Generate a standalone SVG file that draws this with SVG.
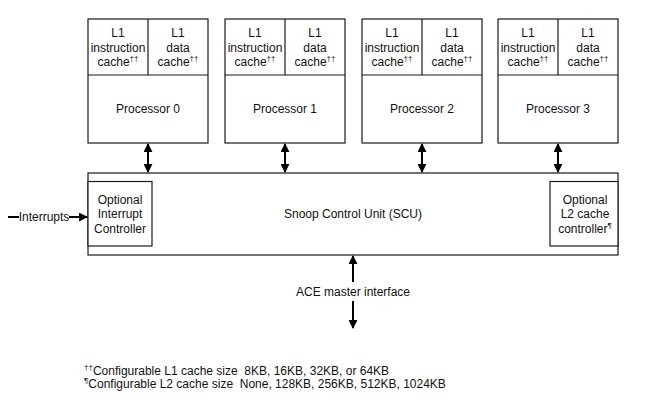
<svg xmlns="http://www.w3.org/2000/svg" width="660" height="412" viewBox="0 0 660 412">
<defs>
<style>
.box{fill:#fff;stroke:#1a1a1a;stroke-width:1.2}
.ln{stroke:#000;stroke-width:2;fill:none}
text{font-family:"Liberation Sans",Arial,sans-serif;font-size:12px;fill:#111;text-anchor:middle}
.sup{font-size:8px}
.ft{text-anchor:start;white-space:pre}
</style>
<marker id="ah" viewBox="0 0 10 10" refX="9" refY="5" markerWidth="4.5" markerHeight="4.5" orient="auto-start-reverse" markerUnits="strokeWidth">
<path d="M0,0 L10,5 L0,10 z" fill="#000"/>
</marker>
</defs>
<rect width="660" height="412" fill="#fff"/>

<g id="cpu0">
<rect class="box" x="88" y="19" width="120" height="124"/>
<line class="box" x1="88" y1="75" x2="208" y2="75"/>
<line class="box" x1="148" y1="19" x2="148" y2="75"/>
<text x="118" y="37">L1</text><text x="118" y="52">instruction</text><text x="118" y="66">cache<tspan class="sup" dy="-5">††</tspan></text>
<text x="178" y="37">L1</text><text x="178" y="52">data</text><text x="178" y="66">cache<tspan class="sup" dy="-5">††</tspan></text>
<text x="148" y="113">Processor 0</text>
</g>
<g id="cpu1">
<rect class="box" x="225" y="19" width="120" height="124"/>
<line class="box" x1="225" y1="75" x2="345" y2="75"/>
<line class="box" x1="285" y1="19" x2="285" y2="75"/>
<text x="255" y="37">L1</text><text x="255" y="52">instruction</text><text x="255" y="66">cache<tspan class="sup" dy="-5">††</tspan></text>
<text x="315" y="37">L1</text><text x="315" y="52">data</text><text x="315" y="66">cache<tspan class="sup" dy="-5">††</tspan></text>
<text x="285" y="113">Processor 1</text>
</g>
<g id="cpu2">
<rect class="box" x="362" y="19" width="120" height="124"/>
<line class="box" x1="362" y1="75" x2="482" y2="75"/>
<line class="box" x1="422" y1="19" x2="422" y2="75"/>
<text x="392" y="37">L1</text><text x="392" y="52">instruction</text><text x="392" y="66">cache<tspan class="sup" dy="-5">††</tspan></text>
<text x="452" y="37">L1</text><text x="452" y="52">data</text><text x="452" y="66">cache<tspan class="sup" dy="-5">††</tspan></text>
<text x="422" y="113">Processor 2</text>
</g>
<g id="cpu3">
<rect class="box" x="498" y="19" width="120" height="124"/>
<line class="box" x1="498" y1="75" x2="618" y2="75"/>
<line class="box" x1="558" y1="19" x2="558" y2="75"/>
<text x="528" y="37">L1</text><text x="528" y="52">instruction</text><text x="528" y="66">cache<tspan class="sup" dy="-5">††</tspan></text>
<text x="588" y="37">L1</text><text x="588" y="52">data</text><text x="588" y="66">cache<tspan class="sup" dy="-5">††</tspan></text>
<text x="558" y="113">Processor 3</text>
</g>

<g id="scu">
<rect class="box" x="88" y="173" width="530" height="82"/>
<text x="353" y="218">Snoop Control Unit (SCU)</text>
</g>
<g id="gic">
<rect class="box" x="88" y="181.5" width="64" height="64.5"/>
<text x="120" y="203.5">Optional</text><text x="120" y="218">Interrupt</text><text x="120" y="232.5">Controller</text>
</g>
<g id="l2c">
<rect class="box" x="550" y="181.5" width="68" height="64.5"/>
<text x="585" y="203.5">Optional</text><text x="585" y="218">L2 cache</text><text x="585" y="232.5">controller<tspan class="sup" dy="-5">¶</tspan></text>
</g>

<g id="connectors">
<line class="ln" x1="148" y1="144" x2="148" y2="172" marker-start="url(#ah)" marker-end="url(#ah)"/>
<line class="ln" x1="285" y1="144" x2="285" y2="172" marker-start="url(#ah)" marker-end="url(#ah)"/>
<line class="ln" x1="422" y1="144" x2="422" y2="172" marker-start="url(#ah)" marker-end="url(#ah)"/>
<line class="ln" x1="558" y1="144" x2="558" y2="172" marker-start="url(#ah)" marker-end="url(#ah)"/>
<line class="ln" x1="353" y1="256" x2="353" y2="282" marker-start="url(#ah)"/>
<line class="ln" x1="353" y1="301" x2="353" y2="328" marker-end="url(#ah)"/>
<line class="ln" x1="8" y1="217" x2="19" y2="217"/>
<line class="ln" x1="69" y1="217" x2="87" y2="217" marker-end="url(#ah)"/>
<text x="44" y="221">Interrupts</text>
<text x="353" y="296">ACE master interface</text>
</g>

<g id="notes">
<text class="ft" x="84" y="375" xml:space="preserve"><tspan class="sup" dy="-5">††</tspan><tspan dy="5">Configurable L1 cache size  8KB, 16KB, 32KB, or 64KB</tspan></text>
<text class="ft" x="84" y="388" xml:space="preserve"><tspan class="sup" dy="-5">¶</tspan><tspan dy="5">Configurable L2 cache size  None, 128KB, 256KB, 512KB, 1024KB</tspan></text>
</g>
</svg>
